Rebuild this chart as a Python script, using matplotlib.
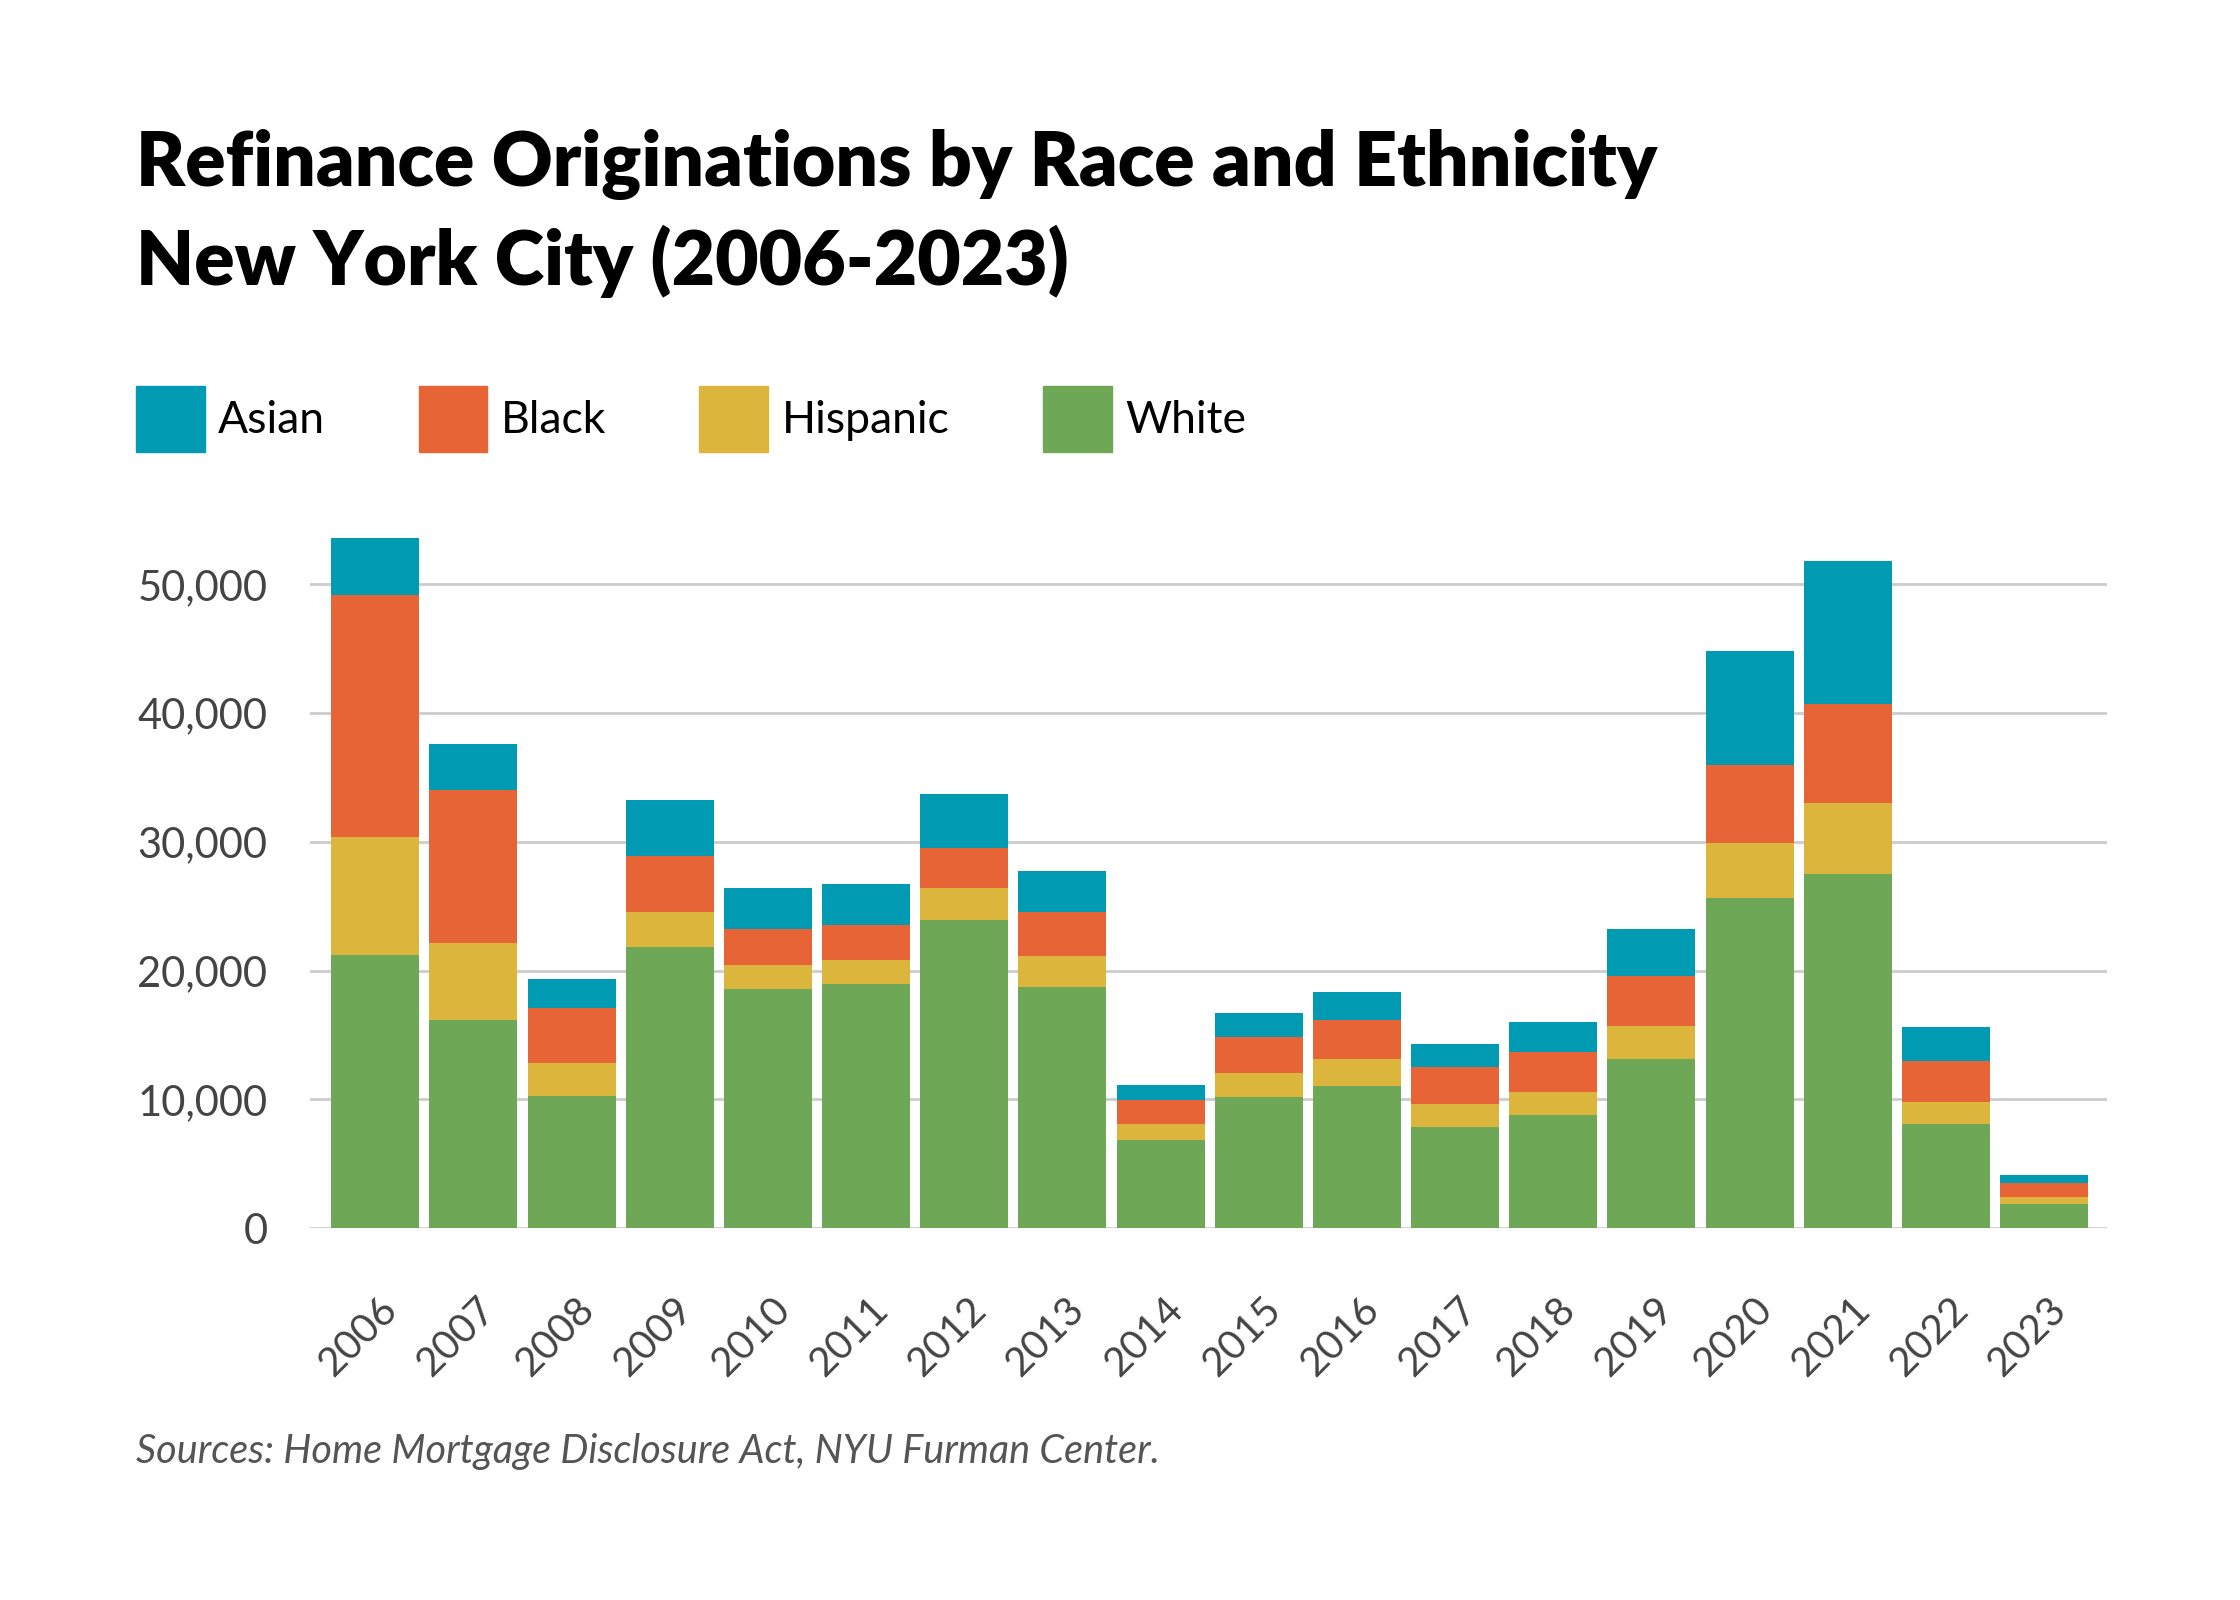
import numpy as np
import matplotlib
matplotlib.use('Agg')
import matplotlib.pyplot as plt
from matplotlib.patches import Patch
from matplotlib.transforms import ScaledTranslation

plt.rcParams['font.family'] = ['Lato', 'DejaVu Sans']

years = [str(y) for y in range(2006, 2024)]
white = [21240, 16120, 10280, 21850, 18550, 18970, 23900, 18700, 6830,
         10170, 11040, 7850, 8760, 13160, 25610, 27500, 8080, 1900]
hispanic = [9150, 6030, 2500, 2660, 1900, 1860, 2500, 2430, 1250,
            1890, 2050, 1790, 1820, 2510, 4320, 5540, 1710, 530]
black = [18780, 11840, 4290, 4400, 2800, 2730, 3110, 3380, 1900,
         2770, 3030, 2840, 3120, 3940, 6070, 7670, 3150, 1100]
asian = [4470, 3600, 2280, 4360, 3150, 3150, 4180, 3220, 1140,
         1860, 2200, 1780, 2270, 3640, 8800, 11110, 2650, 570]

series = [('White', white, '#6EA856'),
          ('Hispanic', hispanic, '#DCB53C'),
          ('Black', black, '#E66435'),
          ('Asian', asian, '#009AB3')]

fig = plt.figure(figsize=(22.4, 16), dpi=100)
ax = fig.add_axes([0.1386, 0.2325, 0.802, 0.4425])

x = np.arange(len(years))
bottom = np.zeros(len(years))
for name, vals, col in series:
    ax.bar(x, vals, bottom=bottom, width=0.896, color=col, label=name, zorder=3)
    bottom += np.array(vals)

ax.set_xlim(-0.66, 17.64)
ax.set_ylim(0, 55000)
ax.set_yticks(range(0, 50001, 10000))
ax.set_yticklabels(['0', '10,000', '20,000', '30,000', '40,000', '50,000'])
ax.yaxis.grid(True, color='#cccccc', linewidth=2)
ax.set_axisbelow(True)
for s in ax.spines.values():
    s.set_visible(False)
ax.tick_params(axis='both', length=0, colors='#444444')
ax.tick_params(axis='y', pad=31, labelsize=30)

ax.set_xticks(x)
ax.set_xticklabels(years, rotation=45, ha='center', va='top')
ax.tick_params(axis='x', pad=45, labelsize=29)
off = ScaledTranslation(-17 / 100, 0, fig.dpi_scale_trans)
for lbl in ax.get_xticklabels():
    lbl.set_transform(lbl.get_transform() + off)

fig.text(136 / 2240, 1 - 165 / 1600, 'Refinance Originations by Race and Ethnicity',
         fontsize=54, fontweight='heavy', color='#000000', va='center', ha='left')
fig.text(136 / 2240, 1 - 261 / 1600, 'New York City (2006-2023)',
         fontsize=54, fontweight='heavy', color='#000000', va='center', ha='left')

handles = [Patch(color=c, label=n) for n, _, c in series[::-1]]
fig.legend(handles=handles, loc='upper left', bbox_to_anchor=(136 / 2240, 1 - 386 / 1600),
           ncol=4, frameon=False, fontsize=32, handlelength=1.55, handleheight=1.9,
           handletextpad=0.3, columnspacing=2.1, borderpad=0, borderaxespad=0)

fig.text(136 / 2240, 1 - 1452 / 1600,
         'Sources: Home Mortgage Disclosure Act, NYU Furman Center.',
         fontsize=28.5, style='italic', color='#555555', va='center', ha='left')

fig.savefig('out.png', dpi=100)
